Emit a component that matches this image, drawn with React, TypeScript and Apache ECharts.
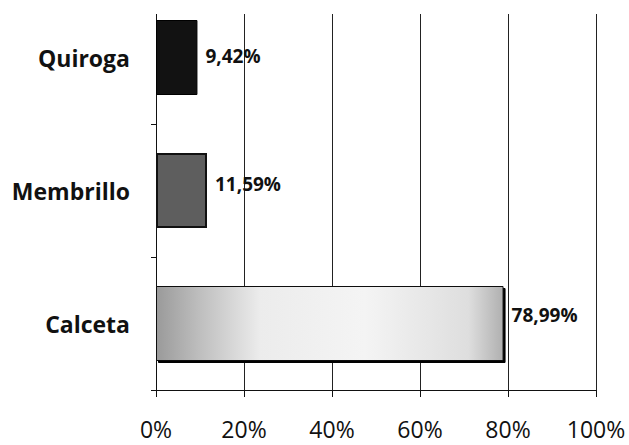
import React, { useEffect, useRef } from "react";
import * as echarts from "echarts";

const categories = ["Calceta", "Membrillo", "Quiroga"];
const values = [78.99, 11.59, 9.42];
const tickValues = [0, 20, 40, 60, 80, 100];
const labelOffsets = [-9, -7, -2];

const FONT = "'Open Sans', 'Noto Sans', sans-serif";

export default function App() {
  const ref = useRef<HTMLDivElement>(null);
  useEffect(() => {
    if (!ref.current) return;
    const chart = echarts.init(ref.current, undefined, { renderer: "svg" });
    const itemStyles = [
      {
        color: new echarts.graphic.LinearGradient(0, 0, 1, 0, [
          { offset: 0, color: "#9a9a9a" },
          { offset: 0.12, color: "#bdbdbd" },
          { offset: 0.3, color: "#ececec" },
          { offset: 0.6, color: "#f4f4f4" },
          { offset: 0.9, color: "#dedede" },
          { offset: 1, color: "#b0b0b0" },
        ]),
        borderColor: "#111",
        borderWidth: 1,
        shadowColor: "#000",
        shadowOffsetX: 2,
        shadowOffsetY: 2,
        shadowBlur: 0,
      },
      { color: "#5e5e5e", borderColor: "#111", borderWidth: 2 },
      { color: "#121212", borderColor: "#000", borderWidth: 1 },
    ];
    chart.setOption({
      animation: false,
      backgroundColor: "#fff",
      grid: {
        left: 156,
        right: 33,
        top: -9,
        height: 399,
        containLabel: false,
        outerBoundsMode: "none",
      },
      xAxis: {
        type: "value",
        min: tickValues[0],
        max: tickValues[tickValues.length - 1],
        interval: 20,
        axisLine: { show: true, lineStyle: { color: "#111", width: 1 } },
        axisTick: { show: true, length: 7, inside: false, lineStyle: { color: "#111" } },
        splitLine: { show: true, lineStyle: { color: "#222", width: 1 } },
        axisLabel: {
          formatter: "{value}%",
          fontFamily: FONT,
          fontSize: 23,
          color: "#111",
          margin: 27,
        },
      },
      yAxis: {
        type: "category",
        data: categories,
        axisLine: { show: true, lineStyle: { color: "#111", width: 1 } },
        axisTick: { show: true, length: 5, lineStyle: { color: "#111" } },
        axisLabel: {
          fontFamily: FONT,
          fontWeight: "bold",
          fontSize: 23,
          color: "#111",
          margin: 26,
        },
      },
      series: [
        {
          type: "bar",
          barWidth: 75,
          data: values.map((v, i) => ({
            value: v,
            itemStyle: itemStyles[i],
            label: { offset: [0, labelOffsets[i]] },
          })),
          label: {
            show: true,
            position: "right",
            distance: 8,
            formatter: (p: any) => p.value.toFixed(2).replace(".", ",") + "%",
            fontFamily: FONT,
            fontWeight: "bold",
            fontSize: 19,
            color: "#111",
          },
        },
      ],
      graphic: [
        {
          type: "rect",
          left: 0,
          top: 0,
          z: 100,
          shape: { width: 629, height: 14 },
          style: { fill: "#fff" },
        },
      ],
    });
    return () => chart.dispose();
  }, []);
  return <div ref={ref} style={{ width: 629, height: 445, position: "absolute", left: 0, top: 0 }} />;
}
